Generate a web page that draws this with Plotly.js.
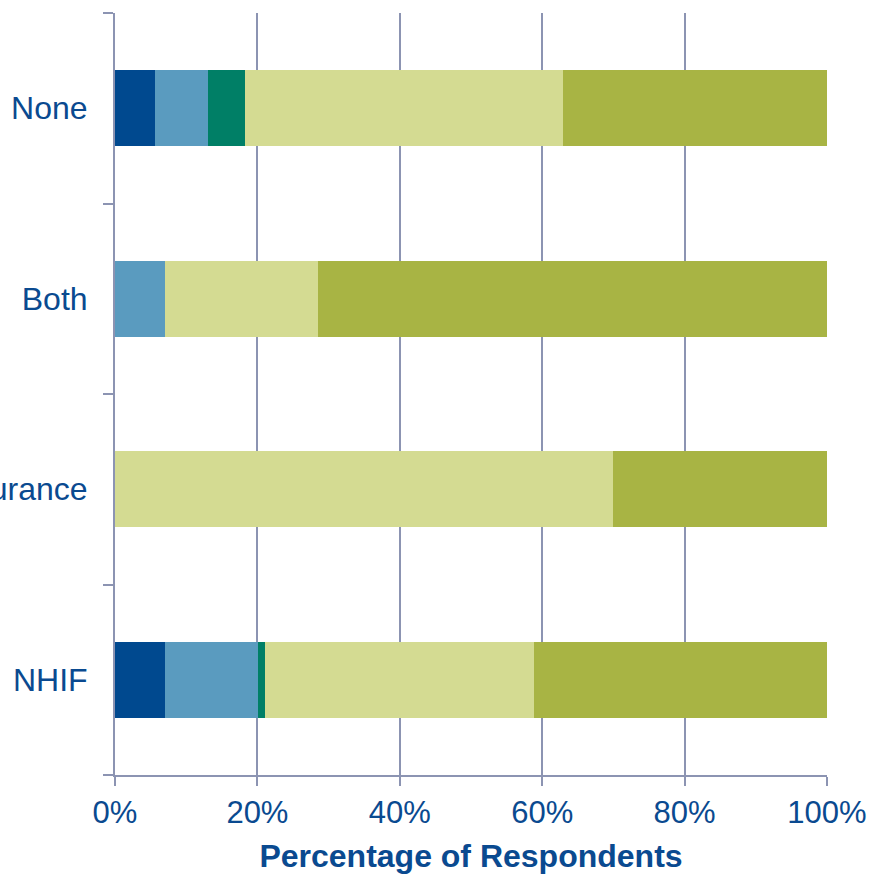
<!DOCTYPE html>
<html>
<head>
<meta charset="utf-8">
<script src="https://cdn.plot.ly/plotly-3.0.1.min.js"></script>
<style>html,body{margin:0;padding:0;background:#fff;}#chart{width:870px;height:874px;}</style>
</head>
<body>
<div id="chart"></div>
<script>
const categories = ["NHIF", "Private Insurance", "Both", "None"];
const seriesNames = ["Very poor", "Poor", "Fair", "Good", "Very good"];
const veryPoor = [7.0, 0, 0, 5.6];
const poor     = [13.1, 0, 7.0, 7.5];
const fair     = [1.0, 0, 0, 5.2];
const good     = [37.7, 70.0, 21.5, 44.6];
const veryGood = [41.2, 30.0, 71.5, 37.1];
const xTickVals = [0, 20, 40, 60, 80, 100];
const xTickText = ["0%", "20%", "40%", "60%", "80%", "100%"];

const colors = ["#00498f", "#5a9bbf", "#007f66", "#d4db92", "#a8b444"];
const values = [veryPoor, poor, fair, good, veryGood];

const traces = values.map((v, i) => ({
  type: "bar",
  orientation: "h",
  name: seriesNames[i],
  y: categories,
  x: v,
  marker: {color: colors[i], line: {width: 0}},
  hoverinfo: "x+name"
}));

const textColor = "#0a4a90";
const axisColor = "#8c94b2";

const layout = {
  width: 870,
  height: 874,
  barmode: "stack",
  bargap: 0.6,
  showlegend: false,
  paper_bgcolor: "#ffffff",
  plot_bgcolor: "#ffffff",
  margin: {l: 115, r: 43, t: 13, b: 99, pad: 0},
  font: {family: "Liberation Sans, Arial, sans-serif", color: textColor, size: 31},
  xaxis: {
    range: [0, 100],
    tickvals: xTickVals,
    ticktext: xTickText,
    showgrid: true,
    gridcolor: axisColor,
    gridwidth: 2,
    zeroline: false,
    showline: true,
    linecolor: axisColor,
    linewidth: 2,
    ticks: "outside",
    ticklen: 9,
    tickwidth: 2,
    tickcolor: axisColor,
    tickfont: {size: 31, color: textColor},
    automargin: false,
    title: {text: "Percentage of Respondents", font: {size: 32, color: textColor, weight: "bold"}, standoff: 15},
    fixedrange: true
  },
  yaxis: {
    type: "category",
    categoryorder: "array",
    categoryarray: categories,
    showgrid: false,
    zeroline: false,
    showline: true,
    linecolor: axisColor,
    linewidth: 2,
    ticks: "outside",
    tickson: "boundaries",
    ticklen: 10,
    tickwidth: 2,
    tickcolor: axisColor,
    tickfont: {size: 32, color: textColor},
    ticklabelstandoff: 19,
    automargin: false,
    fixedrange: true
  }
};

Plotly.newPlot("chart", traces, layout, {displayModeBar: false, staticPlot: true});
</script>
</body>
</html>
